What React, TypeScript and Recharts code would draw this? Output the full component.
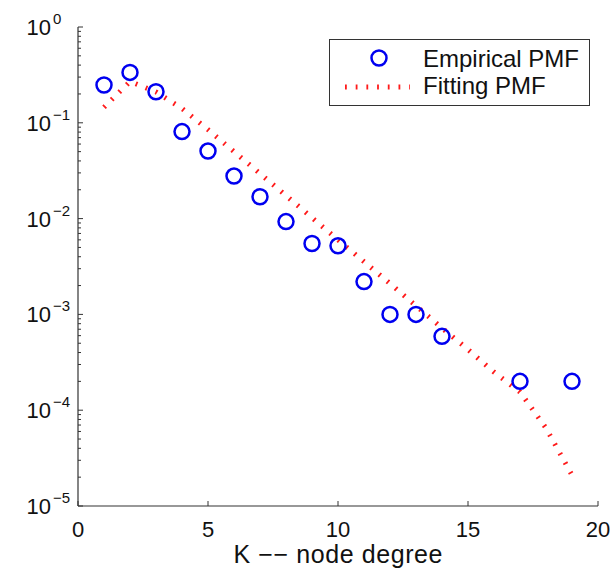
import { ComposedChart, Scatter, Line, XAxis, YAxis, Legend } from 'recharts'

// empirical degree distribution
const degrees = [1, 2, 3, 4, 5, 6, 7, 8, 9, 10, 11, 12, 13, 14, 17, 19]
const empiricalPmf = [
  0.248, 0.336, 0.211, 0.081, 0.0507, 0.0278, 0.0169, 0.0093, 0.0055, 0.0052, 0.0022, 0.001, 0.001,
  0.00059, 0.0002, 0.0002,
]

// fitted curve, evaluated at integer degrees
const fitDegrees = [1, 2, 3, 4, 5, 6, 7, 8, 9, 10, 11, 12, 13, 14, 15, 16, 17, 18, 19]
const fittingPmf = [
  0.145, 0.27, 0.21, 0.141, 0.085, 0.05, 0.0295, 0.0174, 0.0102, 0.006, 0.00355, 0.0021, 0.00123,
  0.00072, 0.00043, 0.00025, 0.000155, 0.000065, 0.000021,
]

const xTicks = [0, 5, 10, 15, 20]
const yMajorTicks = [1e-5, 1e-4, 1e-3, 1e-2, 1e-1, 1]
const yExponents = ['\u22125', '\u22124', '\u22123', '\u22122', '\u22121', '0']
const minorSteps = [2, 3, 4, 5, 6, 7, 8, 9]

const yMinorTicks: number[] = []
yMajorTicks.slice(0, -1).forEach((m) => minorSteps.forEach((s) => yMinorTicks.push(m * s)))
const yTicks = [...yMajorTicks, ...yMinorTicks]

const empData = degrees.map((k, i) => ({ k, p: empiricalPmf[i] }))
const fitData = fitDegrees.map((k, i) => ({ k, p: fittingPmf[i] }))

const FONT = '"Liberation Sans", Arial, Helvetica, sans-serif'
const AXIS = '#333'
const BLUE = '#0000f0'
const RED = '#ff1a1a'
const MAJOR = 5
const MINOR = 3

const isMajor = (v: number) => yMajorTicks.includes(v)

function LeftTick(props: any) {
  const { x, y, payload } = props
  const v = payload.value
  const major = isMajor(v)
  const idx = yMajorTicks.indexOf(v)
  return (
    <g>
      <line x1={x} x2={x + (major ? MAJOR : MINOR)} y1={y} y2={y} stroke={AXIS} strokeWidth={1} />
      {major && (
        <g fontFamily={FONT} fill="#111">
          <text x={x - 27} y={y + 8} textAnchor="end" fontSize={22}>10</text>
          <text x={x - 25} y={y - 3} textAnchor="start" fontSize={15}>{yExponents[idx]}</text>
        </g>
      )}
    </g>
  )
}

function RightTick(props: any) {
  const { x, y, payload } = props
  const len = isMajor(payload.value) ? MAJOR : MINOR
  return <line x1={x} x2={x - len} y1={y} y2={y} stroke={AXIS} strokeWidth={1} />
}

function BottomTick(props: any) {
  const { x, y, payload } = props
  return (
    <g>
      <line x1={x} x2={x} y1={y} y2={y - MAJOR} stroke={AXIS} strokeWidth={1} />
      <text x={x} y={y + 31} textAnchor="middle" fontSize={22} fontFamily={FONT} fill="#111">
        {payload.value}
      </text>
    </g>
  )
}

function TopTick(props: any) {
  const { x, y } = props
  return <line x1={x} x2={x} y1={y} y2={y + MAJOR} stroke={AXIS} strokeWidth={1} />
}

const renderXLabel = (props: any) => {
  const vb = props.viewBox
  return (
    <text
      x={vb.x + vb.width / 2}
      y={vb.y + 57}
      textAnchor="middle"
      fontSize={25}
      fontFamily={FONT}
      fill="#111"
      textLength={209}
      lengthAdjust="spacing"
    >
      K {'\u2212\u2212'} node degree
    </text>
  )
}

function LegendBox() {
  return (
    <svg width={262} height={68} style={{ display: 'block' }}>
      <rect x={0.5} y={0.5} width={260} height={66} fill="#fff" stroke={AXIS} strokeWidth={1} />
      <circle cx={50} cy={19} r={7.5} fill="none" stroke={BLUE} strokeWidth={2.5} />
      <text x={94} y={28} fontSize={24} fontFamily={FONT} fill="#111">Empirical PMF</text>
      <line x1={16} x2={81} y1={48} y2={48} stroke={RED} strokeWidth={5} strokeDasharray="1.8 8.9" />
      <text x={94} y={55} fontSize={24} fontFamily={FONT} fill="#111">Fitting PMF</text>
    </svg>
  )
}

function Ring(props: any) {
  const { cx, cy } = props
  return <circle cx={cx} cy={cy} r={7.5} fill="none" stroke={BLUE} strokeWidth={2.5} />
}

export default function App() {
  return (
    <div style={{ position: 'absolute', left: 0, top: 0, background: '#fff' }}>
      <ComposedChart width={612} height={569} margin={{ top: 27, right: 14, bottom: 0, left: 0 }}>
        <XAxis
          xAxisId="b"
          type="number"
          dataKey="k"
          domain={[0, 20]}
          ticks={xTicks}
          interval={0}
          height={63}
          tickSize={0}
          tickMargin={0}
          tickLine={false}
          tick={BottomTick}
          axisLine={{ stroke: AXIS, strokeWidth: 1.2 }}
          allowDataOverflow
          label={renderXLabel}
        />
        <XAxis
          xAxisId="t"
          orientation="top"
          type="number"
          dataKey="k"
          domain={[0, 20]}
          ticks={xTicks}
          interval={0}
          height={0}
          tickSize={0}
          tickMargin={0}
          tickLine={false}
          tick={TopTick}
          axisLine={{ stroke: AXIS, strokeWidth: 1.2 }}
          allowDataOverflow
        />
        <YAxis
          yAxisId="l"
          type="number"
          scale="log"
          domain={[1e-5, 1]}
          ticks={yTicks}
          interval={0}
          width={78}
          tickSize={0}
          tickMargin={0}
          tickLine={false}
          tick={LeftTick}
          axisLine={{ stroke: AXIS, strokeWidth: 1.2 }}
          allowDataOverflow
        />
        <YAxis
          yAxisId="r"
          orientation="right"
          type="number"
          scale="log"
          domain={[1e-5, 1]}
          ticks={yTicks}
          interval={0}
          width={0}
          tickSize={0}
          tickMargin={0}
          tickLine={false}
          tick={RightTick}
          axisLine={{ stroke: AXIS, strokeWidth: 1.2 }}
          allowDataOverflow
        />
        <Legend
          layout="horizontal"
          verticalAlign="middle"
          align="center"
          content={() => <LegendBox />}
          wrapperStyle={{ left: 329, top: 39, width: 262, height: 68 }}
        />
        <Line
          xAxisId="t"
          yAxisId="r"
          data={fitData}
          dataKey="p"
          type="linear"
          stroke={RED}
          strokeWidth={5}
          strokeDasharray="1.8 8.9"
          dot={false}
          activeDot={false}
          isAnimationActive={false}
        />
        <Scatter
          xAxisId="b"
          yAxisId="l"
          data={empData}
          dataKey="p"
          shape={Ring}
          isAnimationActive={false}
        />
      </ComposedChart>
    </div>
  )
}
